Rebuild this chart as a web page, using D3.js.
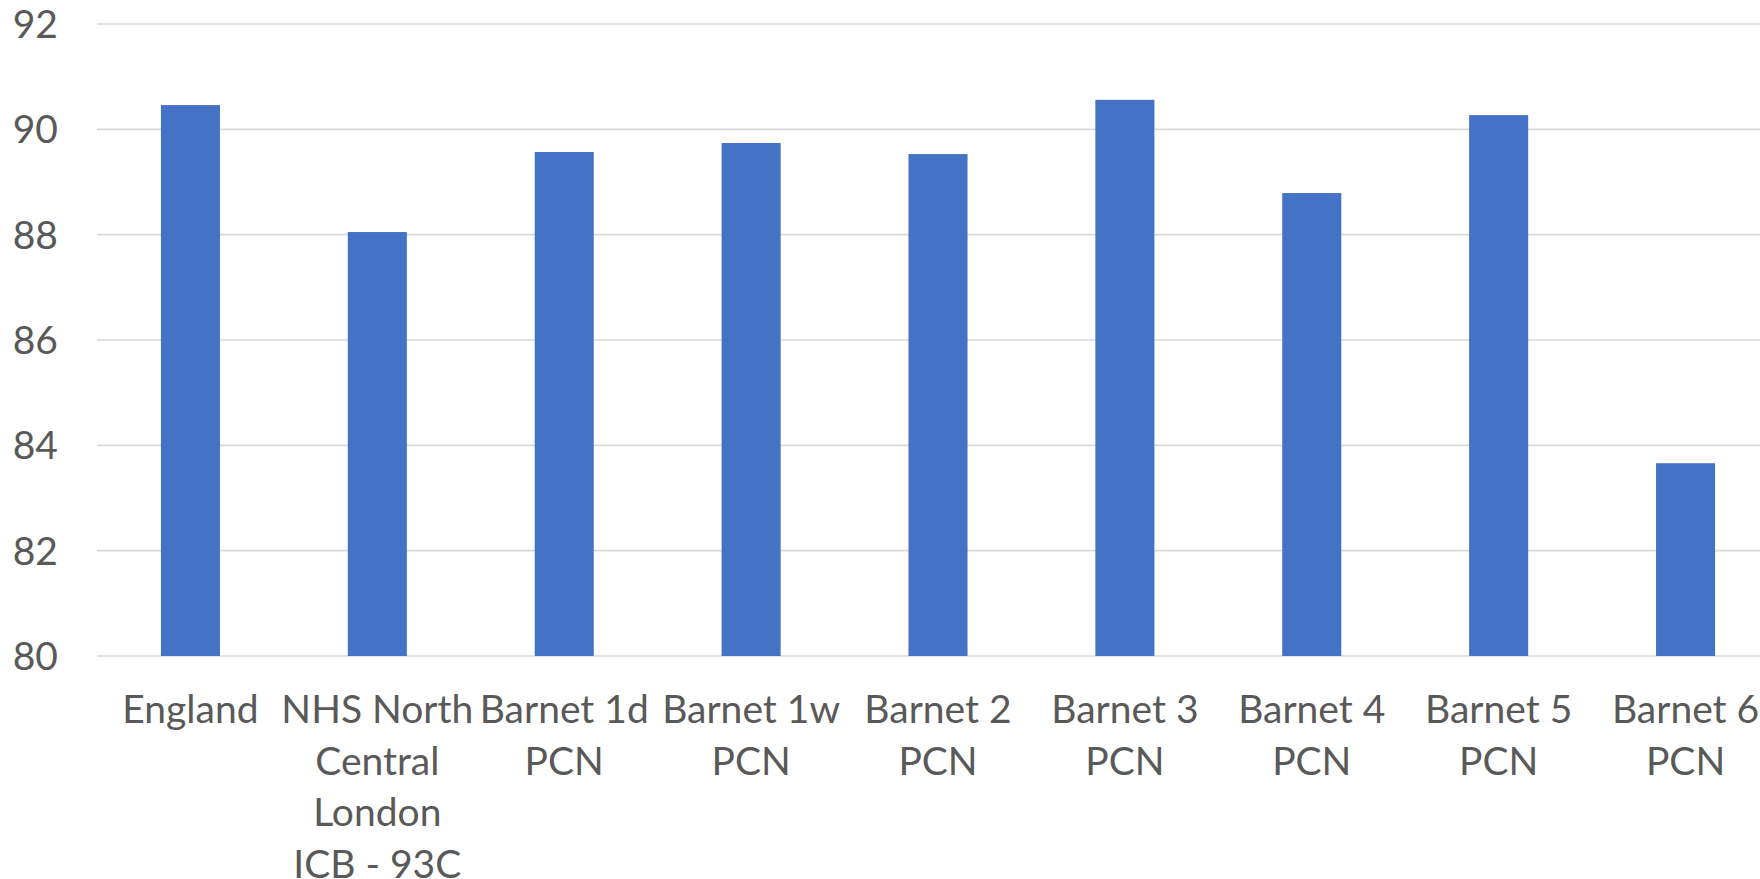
<!DOCTYPE html>
<html>
<head>
<meta charset="utf-8">
<script src="https://cdn.jsdelivr.net/npm/d3@7"></script>
<style>
  html, body { margin: 0; padding: 0; background: #fff; overflow: hidden; }
  text { font-family: Lato, "Open Sans", sans-serif; fill: #595959; }
</style>
</head>
<body>
<script>
// chart data
var categories = ["England", "NHS North\nCentral\nLondon\nICB - 93C", "Barnet 1d\nPCN", "Barnet 1w\nPCN",
	"Barnet 2\nPCN", "Barnet 3\nPCN", "Barnet 4\nPCN", "Barnet 5\nPCN", "Barnet 6\nPCN"];
var values = [90.46, 88.05, 89.57, 89.74, 89.53, 90.56, 88.79, 90.27, 83.66];
var yTicks = [80, 82, 84, 86, 88, 90, 92];

var width = 1760,
	height = 879;

var svg = d3.select("body").append("svg")
	.attr("width", width)
	.attr("height", height);

var xScale = d3.scaleBand()
	.domain(categories)
	.range([97, 1779])
	.paddingInner(0.684)
	.paddingOuter(0.342);

var yScale = d3.scaleLinear()
	.domain([80, 92])
	.range([656, 24]);

// gridlines
svg.selectAll(".grid")
	.data(yTicks)
	.enter()
	.append("line")
		.attr("class", "grid")
		.attr("x1", 97)
		.attr("x2", width)
		.attr("y1", function(d){ return yScale(d); })
		.attr("y2", function(d){ return yScale(d); })
		.attr("stroke", "#d9d9d9")
		.attr("stroke-width", 1.6);

// y labels
svg.selectAll(".ylab")
	.data(yTicks)
	.enter()
	.append("text")
		.attr("class", "ylab")
		.attr("x", 58)
		.attr("y", function(d){ return yScale(d) + 14; })
		.attr("text-anchor", "end")
		.style("font-size", "39px")
		.text(function(d){ return d; });

// bars
svg.selectAll(".bar")
	.data(values)
	.enter()
	.append("rect")
		.attr("class", "bar")
		.attr("x", function(d, i){ return xScale(categories[i]); })
		.attr("y", function(d){ return yScale(d); })
		.attr("width", xScale.bandwidth())
		.attr("height", function(d){ return yScale(80) - yScale(d); })
		.attr("fill", "#4472c4");

// category labels
var labels = svg.selectAll(".xlab")
	.data(categories)
	.enter()
	.append("text")
		.attr("class", "xlab")
		.attr("text-anchor", "middle")
		.style("font-size", "39px");

labels.selectAll("tspan")
	.data(function(d){
		var cx = xScale(d) + xScale.bandwidth() / 2;
		return d.split("\n").map(function(s, j){ return {t: s, x: cx, j: j}; });
	})
	.enter()
	.append("tspan")
		.attr("x", function(d){ return d.x; })
		.attr("y", function(d){ return 723 + d.j * 51.6; })
		.text(function(d){ return d.t; });
</script>
</body>
</html>
